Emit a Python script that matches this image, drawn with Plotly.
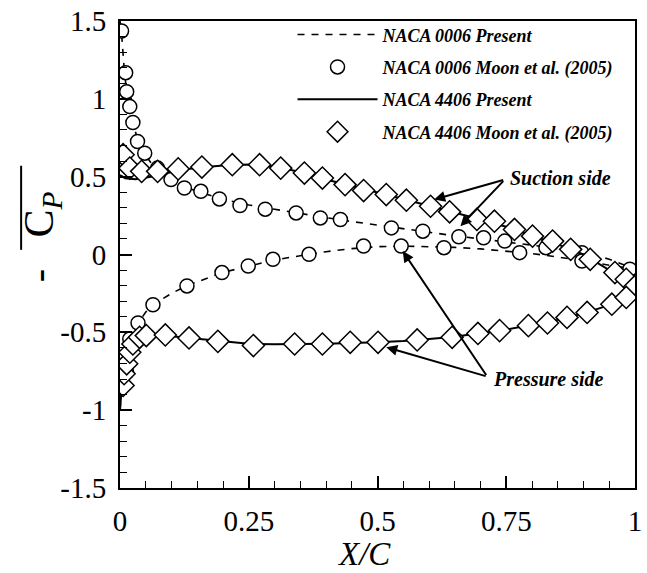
import plotly.graph_objects as go

# ---------------- data ----------------
# NACA 0006, present (dashed line)
n0006_up_x = [0.0, 0.003, 0.008, 0.012, 0.018, 0.025, 0.034, 0.045, 0.06, 0.075, 0.1, 0.125, 0.15, 0.2, 0.25, 0.3, 0.35, 0.4, 0.45, 0.5, 0.55, 0.6, 0.65, 0.7, 0.75, 0.8, 0.85, 0.9, 0.95, 1.0]
n0006_up_y = [1.5, 1.42, 1.2, 1.07, 0.96, 0.85, 0.74, 0.66, 0.59, 0.54, 0.48, 0.435, 0.405, 0.355, 0.318, 0.29, 0.263, 0.237, 0.212, 0.188, 0.165, 0.143, 0.12, 0.1, 0.082, 0.06, 0.037, 0.012, -0.03, -0.095]
n0006_lo_x = [0.0, 0.003, 0.008, 0.015, 0.025, 0.035, 0.05, 0.065, 0.1, 0.13, 0.2, 0.25, 0.3, 0.35, 0.4, 0.45, 0.5, 0.55, 0.6, 0.65, 0.7, 0.75, 0.8, 0.85, 0.9, 0.95, 1.0]
n0006_lo_y = [-1.0, -0.86, -0.72, -0.58, -0.49, -0.44, -0.37, -0.32, -0.25, -0.2, -0.115, -0.075, -0.035, -0.008, 0.018, 0.038, 0.05, 0.054, 0.052, 0.046, 0.036, 0.022, 0.006, -0.016, -0.042, -0.068, -0.095]

# NACA 0006, Moon et al. (2005) (circles)
m0006_up_x = [0.003, 0.011, 0.013, 0.019, 0.025, 0.034, 0.048, 0.073, 0.099, 0.125, 0.157, 0.193, 0.233, 0.282, 0.342, 0.389, 0.428, 0.527, 0.588, 0.658, 0.706, 0.747, 0.827, 0.897, 0.99]
m0006_up_y = [1.436, 1.168, 1.046, 0.95, 0.848, 0.726, 0.651, 0.555, 0.481, 0.427, 0.406, 0.357, 0.315, 0.291, 0.267, 0.235, 0.225, 0.171, 0.15, 0.114, 0.107, 0.086, 0.044, 0.012, -0.095]
m0006_lo_x = [0.013, 0.019, 0.035, 0.064, 0.13, 0.198, 0.249, 0.297, 0.367, 0.473, 0.546, 0.629, 0.776, 0.897]
m0006_lo_y = [-0.756, -0.543, -0.44, -0.323, -0.202, -0.116, -0.074, -0.031, 0.001, 0.054, 0.054, 0.044, 0.012, -0.042]

# NACA 4406, present (solid line)
n4406_up_x = [0.0, 0.01, 0.03, 0.06, 0.1, 0.15, 0.2, 0.25, 0.3, 0.35, 0.4, 0.45, 0.5, 0.55, 0.6, 0.65, 0.7, 0.75, 0.8, 0.85, 0.9, 0.95, 1.0]
n4406_up_y = [0.51, 0.49, 0.483, 0.5, 0.535, 0.558, 0.572, 0.578, 0.565, 0.53, 0.482, 0.438, 0.398, 0.356, 0.313, 0.27, 0.225, 0.178, 0.122, 0.065, 0.0, -0.1, -0.208]
n4406_lo_x = [0.0, 0.002, 0.005, 0.01, 0.02, 0.03, 0.05, 0.08, 0.12, 0.2, 0.25, 0.3, 0.4, 0.5, 0.55, 0.6, 0.65, 0.7, 0.75, 0.8, 0.85, 0.9, 0.95, 0.98, 1.0]
n4406_lo_y = [-1.0, -0.88, -0.78, -0.69, -0.6, -0.555, -0.525, -0.518, -0.532, -0.56, -0.574, -0.577, -0.573, -0.564, -0.556, -0.543, -0.528, -0.505, -0.482, -0.452, -0.42, -0.378, -0.325, -0.278, -0.208]

# NACA 4406, Moon et al. (2005) (diamonds)
m4406_up_x = [0.006, 0.019, 0.042, 0.073, 0.113, 0.159, 0.218, 0.271, 0.312, 0.358, 0.393, 0.437, 0.473, 0.517, 0.556, 0.603, 0.64, 0.693, 0.727, 0.766, 0.801, 0.84, 0.875, 0.913, 0.961, 0.983, 0.999]
m4406_up_y = [0.641, 0.555, 0.534, 0.534, 0.55, 0.562, 0.577, 0.577, 0.555, 0.523, 0.491, 0.449, 0.411, 0.385, 0.349, 0.31, 0.274, 0.225, 0.214, 0.161, 0.118, 0.086, 0.033, -0.031, -0.116, -0.159, -0.208]
m4406_lo_x = [0.006, 0.008, 0.013, 0.019, 0.025, 0.038, 0.051, 0.088, 0.134, 0.19, 0.259, 0.339, 0.393, 0.447, 0.501, 0.577, 0.645, 0.695, 0.737, 0.793, 0.83, 0.868, 0.907, 0.955, 0.983]
m4406_lo_y = [-0.841, -0.766, -0.702, -0.628, -0.575, -0.532, -0.521, -0.517, -0.536, -0.558, -0.585, -0.575, -0.575, -0.564, -0.564, -0.549, -0.532, -0.507, -0.489, -0.457, -0.44, -0.404, -0.372, -0.319, -0.276]

x_tickvals = [0, 0.25, 0.5, 0.75, 1]
x_ticktext = ["0", "0.25", "0.5", "0.75", "1"]
y_tickvals = [1.5, 1, 0.5, 0, -0.5, -1, -1.5]
y_ticktext = ["1.5", "1", "0.5", "0", "-0.5", "-1", "-1.5"]

legend_names = ["<b><i>NACA 0006 Present</i></b>",
                "<b><i>NACA 0006 Moon et al. (2005)</i></b>",
                "<b><i>NACA 4406 Present</i></b>",
                "<b><i>NACA 4406 Moon et al. (2005)</i></b>"]

# ---------------- figure ----------------
SERIF = "Liberation Serif, Times New Roman, serif"

def join(a, b):
    return list(a) + [None] + list(b)

fig = go.Figure()

fig.add_trace(go.Scatter(
    x=join(n0006_up_x, n0006_lo_x), y=join(n0006_up_y, n0006_lo_y),
    mode="lines", name=legend_names[0], legendgroup="a",
    line=dict(color="black", width=1.6, dash="7px,7px"), connectgaps=False))
fig.add_trace(go.Scatter(
    x=m0006_up_x + m0006_lo_x, y=m0006_up_y + m0006_lo_y,
    mode="markers", name=legend_names[1], legendgroup="b",
    marker=dict(symbol="circle", size=14, color="white",
                line=dict(color="black", width=1.5))))
fig.add_trace(go.Scatter(
    x=join(n4406_up_x, n4406_lo_x), y=join(n4406_up_y, n4406_lo_y),
    mode="lines", name=legend_names[2], legendgroup="c",
    line=dict(color="black", width=2), connectgaps=False))
fig.add_trace(go.Scatter(
    x=m4406_up_x + m4406_lo_x, y=m4406_up_y + m4406_lo_y,
    mode="markers", name=legend_names[3], legendgroup="d",
    marker=dict(symbol="diamond", size=17, color="white",
                line=dict(color="black", width=1.5))))

axis_common = dict(
    showline=True, linecolor="black", linewidth=2, mirror=True,
    ticks="inside", ticklen=12, tickwidth=1.5, tickcolor="black",
    showgrid=False, zeroline=False, ticklabeloverflow="allow",
    tickfont=dict(family=SERIF, size=29, color="black"),
)

fig.update_xaxes(range=[0, 1], tickvals=x_tickvals, ticktext=x_ticktext,
                 minor=dict(dtick=0.05, ticks="inside", ticklen=7, tickwidth=1.2, tickcolor="black"),
                 ticklabelstandoff=6, **axis_common)
fig.update_yaxes(range=[-1.5, 1.5], tickvals=y_tickvals, ticktext=y_ticktext,
                 minor=dict(dtick=0.1, ticks="inside", ticklen=7, tickwidth=1.2, tickcolor="black"),
                 ticklabelstandoff=6, **axis_common)

ann_font = dict(family=SERIF, size=20, color="black")
annotations = [
    # x-axis title
    dict(text="<i>X/C</i>", xref="paper", yref="paper", x=0.473, y=-0.141,
         showarrow=False, font=dict(family=SERIF, size=33, color="black"),
         xanchor="center", yanchor="middle"),
    # y-axis title: "-" and "C_P" (overline drawn as a shape)
    dict(text="-", xref="paper", yref="paper", x=-0.158, y=0.455, textangle=-90,
         showarrow=False, font=dict(family=SERIF, size=40, color="black"),
         xanchor="center", yanchor="middle"),
    dict(text="C<sub><i>P</i></sub>", xref="paper", yref="paper", x=-0.152, y=0.585,
         textangle=-90, showarrow=False,
         font=dict(family=SERIF, size=42, color="black"),
         xanchor="center", yanchor="middle"),
    # callout text
    dict(text="<b><i>Suction side</i></b>", xref="x", yref="y", x=0.753, y=0.49,
         showarrow=False, font=ann_font, xanchor="left", yanchor="middle"),
    dict(text="<b><i>Pressure side</i></b>", xref="x", yref="y", x=0.72, y=-0.80,
         showarrow=False, font=ann_font, xanchor="left", yanchor="middle"),
]
# arrows: (tip x, tip y, tail x, tail y)
arrows = [
    (0.610, 0.353, 0.747, 0.481),
    (0.661, 0.182, 0.747, 0.481),
    (0.549, 0.022, 0.713, -0.784),
    (0.517, -0.596, 0.713, -0.784),
]
for tx, ty, sx, sy in arrows:
    annotations.append(dict(x=tx, y=ty, ax=sx, ay=sy, xref="x", yref="y",
                            axref="x", ayref="y", text="", showarrow=True,
                            arrowhead=2, arrowsize=1.1, arrowwidth=2,
                            arrowcolor="black"))

shapes = [
    # overline of the y-axis title
    dict(type="line", xref="paper", yref="paper", x0=-0.192, x1=-0.192,
         y0=0.51, y1=0.69, line=dict(color="black", width=2)),
]

fig.update_layout(
    width=647, height=573,
    margin=dict(l=120, r=5, t=19, b=85),
    paper_bgcolor="white", plot_bgcolor="white",
    showlegend=True,
    legend=dict(x=0.335, y=1.01, xanchor="left", yanchor="top",
                bgcolor="rgba(0,0,0,0)", borderwidth=0,
                font=dict(family=SERIF, size=18, color="black"),
                tracegroupgap=6, itemwidth=80, traceorder="grouped"),
    annotations=annotations,
    shapes=shapes,
)

fig.write_html("out.html")
